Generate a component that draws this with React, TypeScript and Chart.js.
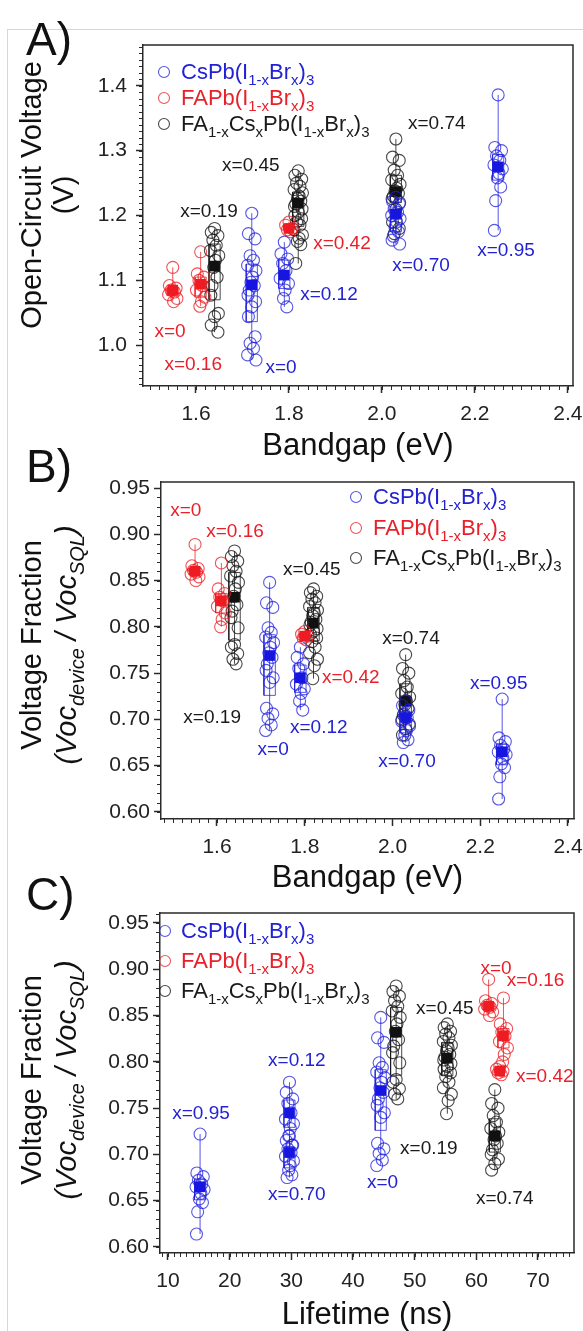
import React, { useEffect, useRef } from "react";
import { Chart, registerables } from "chart.js";
Chart.register(...registerables);

const FONT = "'Liberation Sans', Arial, Helvetica, sans-serif";
const AX = "#2a2a2a";

// ---------------- data ----------------
// series: 0 = CsPb(I1-xBrx)3, 1 = FAPb(I1-xBrx)3, 2 = FA1-xCsxPb(I1-xBrx)3
const GROUP_SERIES = [0, 0, 0, 0, 1, 1, 1, 2, 2, 2];
const GROUP_LABELS = ["x=0", "x=0.12", "x=0.70", "x=0.95", "x=0", "x=0.16", "x=0.42", "x=0.19", "x=0.45", "x=0.74"];
const BANDGAP_EV = [1.72, 1.79, 2.03, 2.25, 1.55, 1.61, 1.8, 1.64, 1.82, 2.03];
const LIFETIME_NS = [44.5, 29.7, 29.7, 15.2, 62.0, 64.4, 63.8, 47.0, 55.3, 63.0];

// Panel A: open-circuit voltage (V)
const VOC_CS_0 = [1.2035, 1.172, 1.164, 1.138, 1.131, 1.123, 1.115, 1.105, 1.097, 1.092, 1.085, 1.077, 1.067, 1.059, 1.044, 1.013, 1.003, 0.995, 0.985, 0.977];
const VOC_CS_012 = [1.159, 1.141, 1.133, 1.126, 1.115, 1.103, 1.095, 1.085, 1.072, 1.059];
const VOC_CS_070 = [1.228, 1.222, 1.218, 1.21, 1.205, 1.2, 1.195, 1.19, 1.182, 1.175, 1.168, 1.162, 1.156];
const VOC_CS_095 = [1.386, 1.305, 1.3, 1.292, 1.285, 1.278, 1.272, 1.265, 1.258, 1.244, 1.223, 1.177];
const VOC_FA_0 = [1.12, 1.092, 1.088, 1.085, 1.082, 1.078, 1.072, 1.067];
const VOC_FA_016 = [1.144, 1.11, 1.105, 1.1, 1.092, 1.085, 1.074, 1.067, 1.06];
const VOC_FA_042 = [1.19, 1.185, 1.18, 1.178, 1.175];
const VOC_FACS_019 = [1.18, 1.174, 1.169, 1.162, 1.154, 1.146, 1.138, 1.131, 1.12, 1.105, 1.092, 1.077, 1.049, 1.044, 1.031, 1.02];
const VOC_FACS_045 = [1.269, 1.262, 1.256, 1.25, 1.245, 1.24, 1.235, 1.23, 1.226, 1.222, 1.218, 1.214, 1.21, 1.205, 1.2, 1.195, 1.19, 1.185, 1.178, 1.17, 1.165, 1.16, 1.155, 1.126];
const VOC_FACS_074 = [1.318, 1.29, 1.285, 1.27, 1.262, 1.255, 1.248, 1.242, 1.238, 1.234, 1.23, 1.226, 1.22, 1.21, 1.19, 1.18, 1.172];
const VOC_MEAN = [1.093, 1.108, 1.202, 1.275, 1.085, 1.094, 1.18, 1.122, 1.219, 1.237];

// Panels B and C: voltage fraction Voc_device / Voc_SQL
const FRAC_CS_0 = [0.848, 0.826, 0.821, 0.799, 0.794, 0.789, 0.783, 0.778, 0.772, 0.767, 0.76, 0.753, 0.745, 0.74, 0.712, 0.706, 0.701, 0.694, 0.688];
const FRAC_CS_012 = [0.778, 0.767, 0.76, 0.755, 0.745, 0.738, 0.733, 0.728, 0.72, 0.71];
const FRAC_CS_070 = [0.72, 0.715, 0.71, 0.706, 0.702, 0.698, 0.693, 0.688, 0.683, 0.678, 0.675];
const FRAC_CS_095 = [0.722, 0.68, 0.676, 0.672, 0.668, 0.665, 0.662, 0.658, 0.652, 0.648, 0.638, 0.614];
const FRAC_FA_0 = [0.889, 0.866, 0.863, 0.861, 0.859, 0.857, 0.854, 0.85];
const FRAC_FA_016 = [0.869, 0.841, 0.836, 0.832, 0.828, 0.822, 0.815, 0.808, 0.8];
const FRAC_FA_042 = [0.795, 0.792, 0.79, 0.788, 0.786];
const FRAC_FACS_019 = [0.882, 0.876, 0.871, 0.866, 0.86, 0.855, 0.848, 0.841, 0.833, 0.824, 0.817, 0.81, 0.799, 0.781, 0.778, 0.771, 0.765, 0.76];
const FRAC_FACS_045 = [0.841, 0.837, 0.833, 0.83, 0.826, 0.822, 0.818, 0.815, 0.812, 0.808, 0.805, 0.802, 0.798, 0.795, 0.792, 0.788, 0.784, 0.778, 0.772, 0.765, 0.758, 0.744];
const FRAC_FACS_074 = [0.77, 0.755, 0.75, 0.742, 0.735, 0.728, 0.724, 0.72, 0.716, 0.712, 0.705, 0.7, 0.695, 0.69, 0.683];
const FRAC_MEAN = [0.769, 0.745, 0.702, 0.665, 0.86, 0.828, 0.79, 0.832, 0.804, 0.72];

const VOC_GROUPS = [VOC_CS_0, VOC_CS_012, VOC_CS_070, VOC_CS_095, VOC_FA_0, VOC_FA_016, VOC_FA_042, VOC_FACS_019, VOC_FACS_045, VOC_FACS_074];
const FRAC_GROUPS = [FRAC_CS_0, FRAC_CS_012, FRAC_CS_070, FRAC_CS_095, FRAC_FA_0, FRAC_FA_016, FRAC_FA_042, FRAC_FACS_019, FRAC_FACS_045, FRAC_FACS_074];

// tick labels
const BANDGAP_TICKS = [1.6, 1.8, 2.0, 2.2, 2.4];
const VOC_TICKS = [1.0, 1.1, 1.2, 1.3, 1.4];
const FRAC_TICKS = [0.6, 0.65, 0.7, 0.75, 0.8, 0.85, 0.9, 0.95];
const LIFETIME_TICKS = [10, 20, 30, 40, 50, 60, 70];

// ---------------- styles ----------------
const SERIES_LINE = ["rgba(30,30,222,0.75)", "rgba(236,24,30,0.75)", "rgba(20,20,20,0.78)"];
const SERIES_FILL = ["#1616e0", "#ee1c22", "#111111"];
const SERIES_TEXT = ["#2222d4", "#e8202a", "#1a1a1a"];
const DRAW_ORDER = [7, 8, 9, 0, 1, 2, 3, 4, 5, 6];
const JITTER = [0, -0.8, 0.8, -0.4, 0.4, -1, 1, 0.2, -0.2, 0.6, -0.6, -0.9, 0.9];

type Seg = { t: string; sub?: boolean };
const LEGEND_SEGS: Seg[][] = [
  [{ t: "CsPb(I" }, { t: "1-x", sub: true }, { t: "Br" }, { t: "x", sub: true }, { t: ")" }, { t: "3", sub: true }],
  [{ t: "FAPb(I" }, { t: "1-x", sub: true }, { t: "Br" }, { t: "x", sub: true }, { t: ")" }, { t: "3", sub: true }],
  [{ t: "FA" }, { t: "1-x", sub: true }, { t: "Cs" }, { t: "x", sub: true }, { t: "Pb(I" }, { t: "1-x", sub: true }, { t: "Br" }, { t: "x", sub: true }, { t: ")" }, { t: "3", sub: true }],
];
const FRAC_TITLE2: Seg[] = [{ t: "(Voc" }, { t: "device", sub: true }, { t: " / Voc" }, { t: "SQL", sub: true }, { t: ")" }];

type Annot = [number, number, number]; // x, y, group index (label/colour)
const PANELS = [
  {
    top: 0, h: 462, area: { left: 143, top: 45, right: 573, bottom: 386 },
    xMin: 1.486, xMax: 2.411, yMin: 0.937, yMax: 1.463,
    xTicks: BANDGAP_TICKS, yTicks: VOC_TICKS, xDec: 1, yDec: 1, xMinor: 0.02, yMinor: 0.01,
    xPad: 9, yPad: 9,
    xTitle: "Bandgap (eV)", xs: BANDGAP_EV, groups: VOC_GROUPS, means: VOC_MEAN, jitter: 0.009, boxHalf: 0.012,
    legend: { mx: 164, tx: 181, rows: [71, 97, 123] },
    title1: [{ t: "Open-Circuit Voltage" }] as Seg[], title2: [{ t: "(V)" }] as Seg[], italic2: false,
    t1: { cx: 31, cy: 195 }, t2: { cx: 63, cy: 195 },
    annots: [
      [1.544, 1.02, 4], [1.594, 0.97, 5], [1.783, 0.965, 0], [1.886, 1.077, 1], [1.914, 1.157, 6],
      [1.628, 1.206, 7], [1.718, 1.277, 8], [2.118, 1.342, 9], [2.084, 1.123, 2], [2.267, 1.146, 3],
    ],
  },
  {
    top: 462, h: 432, area: { left: 161, top: 20, right: 574, bottom: 357 },
    xMin: 1.4724, xMax: 2.4137, yMin: 0.5924, yMax: 0.9565,
    xTicks: BANDGAP_TICKS, yTicks: FRAC_TICKS, xDec: 1, yDec: 2, xMinor: 0.02, yMinor: 0.01,
    xPad: 9, yPad: 4,
    xTitle: "Bandgap (eV)", xs: BANDGAP_EV, groups: FRAC_GROUPS, means: FRAC_MEAN, jitter: 0.009, boxHalf: 0.013,
    legend: { mx: 356, tx: 373, rows: [34, 65, 95] },
    title1: [{ t: "Voltage Fraction" }] as Seg[], title2: FRAC_TITLE2, italic2: true,
    t1: { cx: 31, cy: 183 }, t2: { cx: 66, cy: 183 },
    annots: [
      [1.529, 0.925, 4], [1.641, 0.903, 5], [1.816, 0.862, 8], [2.042, 0.787, 9], [1.589, 0.702, 7],
      [1.728, 0.667, 0], [1.832, 0.691, 1], [1.905, 0.745, 6], [2.033, 0.654, 2], [2.242, 0.739, 3],
    ],
  },
  {
    top: 894, h: 437, area: { left: 160, top: 19, right: 574, bottom: 359 },
    xMin: 8.703, xMax: 75.84, yMin: 0.5935, yMax: 0.9608,
    xTicks: LIFETIME_TICKS, yTicks: FRAC_TICKS, xDec: 0, yDec: 2, xMinor: 1, yMinor: 0.01,
    xPad: 9, yPad: 4,
    xTitle: "Lifetime (ns)", xs: LIFETIME_NS, groups: FRAC_GROUPS, means: FRAC_MEAN, jitter: 0.65, boxHalf: 0.9,
    legend: { mx: 165, tx: 181, rows: [36, 66, 96] },
    title1: [{ t: "Voltage Fraction" }] as Seg[], title2: FRAC_TITLE2, italic2: true,
    t1: { cx: 31, cy: 186 }, t2: { cx: 66, cy: 186 },
    annots: [
      [15.35, 0.744, 3], [30.9, 0.801, 1], [30.9, 0.656, 2], [44.8, 0.669, 0], [52.3, 0.706, 7],
      [54.9, 0.857, 8], [64.6, 0.652, 9], [71.1, 0.784, 6], [63.2, 0.901, 4], [69.6, 0.888, 5],
    ],
  },
];

function quantile(sorted: number[], q: number) {
  const pos = (sorted.length - 1) * q;
  const lo = Math.floor(pos), hi = Math.ceil(pos);
  return sorted[lo] + (sorted[hi] - sorted[lo]) * (pos - lo);
}

function drawRich(ctx: CanvasRenderingContext2D, segs: Seg[], x: number, y: number, size: number, subSize: number, italic: boolean, color: string, align: "left" | "center") {
  const font = (sub?: boolean) => `${italic ? "italic " : ""}${sub ? subSize : size}px ${FONT}`;
  let w = 0;
  for (const s of segs) { ctx.font = font(s.sub); w += ctx.measureText(s.t).width; }
  let cx = align === "center" ? x - w / 2 : x;
  const base = y + size * 0.36;
  ctx.fillStyle = color;
  ctx.textAlign = "left";
  ctx.textBaseline = "alphabetic";
  for (const s of segs) {
    ctx.font = font(s.sub);
    ctx.fillText(s.t, cx, s.sub ? base + size * 0.27 : base);
    cx += ctx.measureText(s.t).width;
  }
}

function buildConfig(p: any) {
  const datasets: any[] = [];
  for (const g of DRAW_ORDER) {
    const s = GROUP_SERIES[g];
    const vals: number[] = p.groups[g];
    const cx: number = p.xs[g];
    const sorted = [...vals].sort((a, b) => a - b);
    const q1 = quantile(sorted, 0.25), q3 = quantile(sorted, 0.75);
    datasets.push({
      data: [{ x: cx, y: sorted[0] }, { x: cx, y: sorted[sorted.length - 1] }],
      showLine: true, borderColor: SERIES_LINE[s], borderWidth: 1, pointRadius: 0,
    });
    const b = p.boxHalf;
    datasets.push({
      data: [{ x: cx - b, y: q1 }, { x: cx + b, y: q1 }, { x: cx + b, y: q3 }, { x: cx - b, y: q3 }, { x: cx - b, y: q1 }],
      showLine: true, borderColor: SERIES_LINE[s], borderWidth: 1, pointRadius: 0,
    });
    datasets.push({
      data: vals.map((v, i) => ({ x: cx + JITTER[i % JITTER.length] * p.jitter, y: v })),
      pointStyle: "circle", pointRadius: 6, borderWidth: 1.1,
      borderColor: SERIES_LINE[s], backgroundColor: "rgba(0,0,0,0)",
    });
    datasets.push({
      data: [{ x: cx, y: p.means[g] }],
      pointStyle: "rect", pointRadius: 7.5, borderWidth: 0,
      borderColor: SERIES_FILL[s], backgroundColor: SERIES_FILL[s],
    });
  }
  datasets.forEach((d, i) => (d.order = -i));

  const tickFont = { family: FONT, size: 21 };
  const plugin = {
    id: "decor",
    afterDraw(chart: any) {
      const { ctx, chartArea: a } = chart;
      const xs = chart.scales.x, ys = chart.scales.y;
      ctx.save();
      ctx.strokeStyle = AX;
      ctx.lineWidth = 1.5;
      ctx.beginPath();
      ctx.moveTo(a.left, a.top); ctx.lineTo(a.right, a.top); ctx.lineTo(a.right, a.bottom);
      ctx.stroke();
      ctx.lineWidth = 1;
      ctx.beginPath();
      for (let k = Math.ceil(p.xMin / p.xMinor - 1e-9); k * p.xMinor <= p.xMax + 1e-9; k++) {
        const px = Math.round(xs.getPixelForValue(k * p.xMinor)) + 0.5;
        ctx.moveTo(px, a.bottom); ctx.lineTo(px, a.bottom + 4);
      }
      for (let k = Math.ceil(p.yMin / p.yMinor - 1e-9); k * p.yMinor <= p.yMax + 1e-9; k++) {
        const py = Math.round(ys.getPixelForValue(k * p.yMinor)) + 0.5;
        ctx.moveTo(a.left, py); ctx.lineTo(a.left - 4, py);
      }
      ctx.stroke();

      // legend
      for (let s = 0; s < 3; s++) {
        const ry = p.legend.rows[s];
        ctx.beginPath();
        ctx.strokeStyle = SERIES_LINE[s];
        ctx.lineWidth = 1.1;
        ctx.arc(p.legend.mx, ry + 1, 5.5, 0, Math.PI * 2);
        ctx.stroke();
        drawRich(ctx, LEGEND_SEGS[s], p.legend.tx, ry, 22, 15, false, SERIES_TEXT[s], "left");
      }

      // annotations
      ctx.font = `19px ${FONT}`;
      ctx.textAlign = "center";
      ctx.textBaseline = "middle";
      for (const [ax, ay, g] of p.annots as Annot[]) {
        ctx.fillStyle = SERIES_TEXT[GROUP_SERIES[g]];
        ctx.fillText(GROUP_LABELS[g], xs.getPixelForValue(ax), ys.getPixelForValue(ay));
      }

      // y-axis titles
      ctx.save();
      ctx.translate(p.t1.cx, p.t1.cy);
      ctx.rotate(-Math.PI / 2);
      drawRich(ctx, p.title1, 0, 0, 29, 20, false, "#111", "center");
      ctx.restore();
      ctx.save();
      ctx.translate(p.t2.cx, p.t2.cy);
      ctx.rotate(-Math.PI / 2);
      drawRich(ctx, p.title2, 0, 0, 29, 20, p.italic2, "#111", "center");
      ctx.restore();
      ctx.restore();
    },
  };

  return {
    type: "scatter",
    data: { datasets },
    options: {
      responsive: false,
      animation: false,
      events: [],
      layout: { padding: { left: 0, top: p.area.top, right: 583 - p.area.right, bottom: 0 } },
      plugins: { legend: { display: false }, tooltip: { enabled: false } },
      scales: {
        x: {
          type: "linear", min: p.xMin, max: p.xMax,
          afterFit: (s: any) => { s.height = p.h - p.area.bottom; s.paddingLeft = 0; s.paddingRight = 0; },
          afterBuildTicks: (s: any) => { s.ticks = p.xTicks.map((v: number) => ({ value: v })); },
          ticks: { autoSkip: false, maxRotation: 0, font: tickFont, color: "#222", padding: p.xPad, callback: (v: any) => Number(v).toFixed(p.xDec) },
          grid: { display: true, drawOnChartArea: false, drawTicks: true, tickLength: 7, tickWidth: 1.5, tickColor: AX, color: AX },
          border: { display: true, color: AX, width: 1.5 },
          title: { display: true, text: p.xTitle, color: "#111", font: { family: FONT, size: 31, lineHeight: 1 }, padding: 0 },
        },
        y: {
          type: "linear", min: p.yMin, max: p.yMax,
          afterFit: (s: any) => { s.width = p.area.left; s.paddingTop = 0; s.paddingBottom = 0; },
          afterBuildTicks: (s: any) => { s.ticks = p.yTicks.map((v: number) => ({ value: v })); },
          ticks: { autoSkip: false, font: tickFont, color: "#222", padding: p.yPad, callback: (v: any) => Number(v).toFixed(p.yDec) },
          grid: { display: true, drawOnChartArea: false, drawTicks: true, tickLength: 7, tickWidth: 1.5, tickColor: AX, color: AX },
          border: { display: true, color: AX, width: 1.5 },
          title: { display: false },
        },
      },
    },
    plugins: [plugin],
  };
}

function Panel({ p }: { p: any }) {
  const ref = useRef<HTMLCanvasElement>(null);
  useEffect(() => {
    const chart = new Chart(ref.current as HTMLCanvasElement, buildConfig(p) as any);
    return () => chart.destroy();
  }, [p]);
  return (
    <canvas
      ref={ref}
      width={583}
      height={p.h}
      style={{ position: "absolute", left: 0, top: p.top, width: 583, height: p.h }}
    />
  );
}

const LABEL_STYLE: React.CSSProperties = {
  position: "absolute", left: 26, fontFamily: FONT, fontSize: 46, lineHeight: "46px", color: "#111",
};

export default function App() {
  return (
    <div style={{ position: "absolute", left: 0, top: 0, width: 583, height: 1331, background: "#fff", overflow: "hidden" }}>
      <div style={{ position: "absolute", left: 7, top: 29, width: 580, height: 1310, borderLeft: "1px solid #d6d6d6", borderTop: "1px solid #d6d6d6" }} />
      {PANELS.map((p, i) => (
        <Panel key={i} p={p} />
      ))}
      <div style={{ ...LABEL_STYLE, top: 16 }}>A)</div>
      <div style={{ ...LABEL_STYLE, top: 443 }}>B)</div>
      <div style={{ ...LABEL_STYLE, top: 871 }}>C)</div>
    </div>
  );
}
